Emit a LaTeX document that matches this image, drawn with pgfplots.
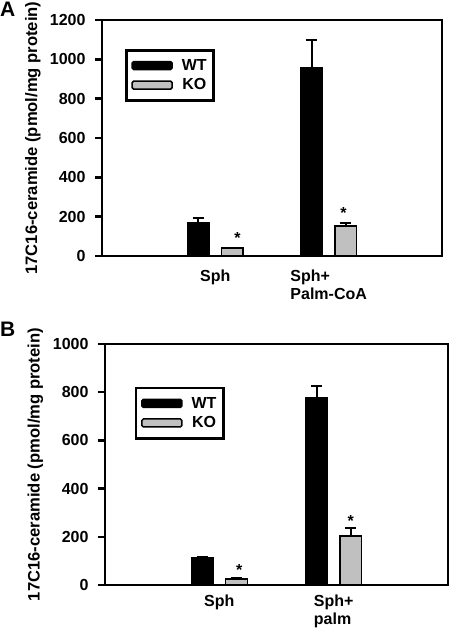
\documentclass[border=0pt]{standalone}
\usepackage{pgfplots}
\pgfplotsset{compat=1.18}
\usepackage{fontspec}
\setmainfont{Liberation Sans}
\definecolor{kogray}{RGB}{192,192,192}
\newcommand{\ff}{\fontsize{16}{18}\selectfont\bfseries}
\pgfplotsset{
  panel/.style={
    scale only axis, anchor=south west,
    xmin=0, xmax=3, ymin=0,
    axis line style={line width=2.6pt},
    xtick={1,2}, xtick style={draw=none},
    ytick pos=left, tick align=outside,
    major tick length=7pt,
    ytick style={line width=2.5pt, black},
    tick label style={font=\ff},
    yticklabel style={xshift=-6pt},
    xticklabel style={align=left},
    /pgf/number format/assume math mode=true,
    /pgf/number format/1000 sep={},
    scaled y ticks=false,
    ylabel={17C16-ceramide (pmol/mg protein)},
    every axis y label/.style={at={(axis description cs:-0.203,0.5)}, rotate=90, anchor=center, font=\fontsize{16.6}{18}\selectfont\bfseries},
    legend style={draw=black, line width=2.5pt, anchor=north west, inner xsep=5pt, inner ysep=7pt, row sep=3pt, font=\ff,
      /tikz/every odd column/.append style={column sep=7pt}},
    legend image code/.code={\draw[#1, line width=1.5pt, rounded corners=1.5pt] (0pt,-4pt) rectangle (40pt,4pt);},
  },
  wt/.style={ybar, bar width=0.19, bar shift=0pt, fill=black, draw=black, line width=1.5pt,
    error bars/.cd, y dir=plus, y explicit,
    error bar style={line width=2pt, black},
    error mark options={rotate=90, mark size=5.5pt, line width=2pt, black}},
  ko/.style={ybar, bar width=0.19, bar shift=0pt, fill=kogray, draw=black, line width=1.5pt,
    error bars/.cd, y dir=plus, y explicit,
    error bar style={line width=2pt, black},
    error mark options={rotate=90, mark size=5.5pt, line width=2pt, black}},
  star/.style={forget plot, draw=none, mark=none, nodes near coords={*},
    every node near coord/.append style={anchor=center, yshift=-3.5pt, font=\ff, text=black}},
}
\begin{document}
\begin{tikzpicture}
\path[use as bounding box] (0pt,0pt) rectangle (450pt,630pt);
\node[anchor=north west, inner sep=0pt, font=\fontsize{21}{24}\selectfont\bfseries] at (0pt,628pt) {A};
\node[anchor=north west, inner sep=0pt, font=\fontsize{21}{24}\selectfont\bfseries] at (0pt,308pt) {B};

\begin{axis}[panel, at={(102pt,374pt)}, width=340pt, height=236pt,
  ymax=1200, ytick={0,200,...,1200},
  xticklabels={Sph, Sph+\\Palm-CoA},
  xticklabel style={yshift=-3pt},
  legend style={at={(0.068,0.877)}}]
\addplot[wt] coordinates {(0.85,168) +- (0,27) (1.85,957) +- (0,143)};
\addlegendentry{WT}
\addplot[ko] coordinates {(1.15,40) +- (0,3) (2.15,153) +- (0,15)};
\addlegendentry{KO}
\addplot[star] coordinates {(1.195,107) (2.13,234)};
\end{axis}

\begin{axis}[panel, at={(105pt,45pt)}, width=343pt, height=241pt,
  ymax=1000, ytick={0,200,...,1000},
  xticklabels={Sph, Sph+\\palm},
  xticklabel style={yshift=1pt},
  legend style={at={(0.087,0.822)}}]
\addplot[wt] coordinates {(0.85,113) +- (0,2) (1.85,779) +- (0,47)};
\addlegendentry{WT}
\addplot[ko] coordinates {(1.15,24) +- (0,3) (2.15,204) +- (0,34)};
\addlegendentry{KO}
\addplot[star] coordinates {(1.175,75) (2.15,282)};
\end{axis}
\end{tikzpicture}
\end{document}
